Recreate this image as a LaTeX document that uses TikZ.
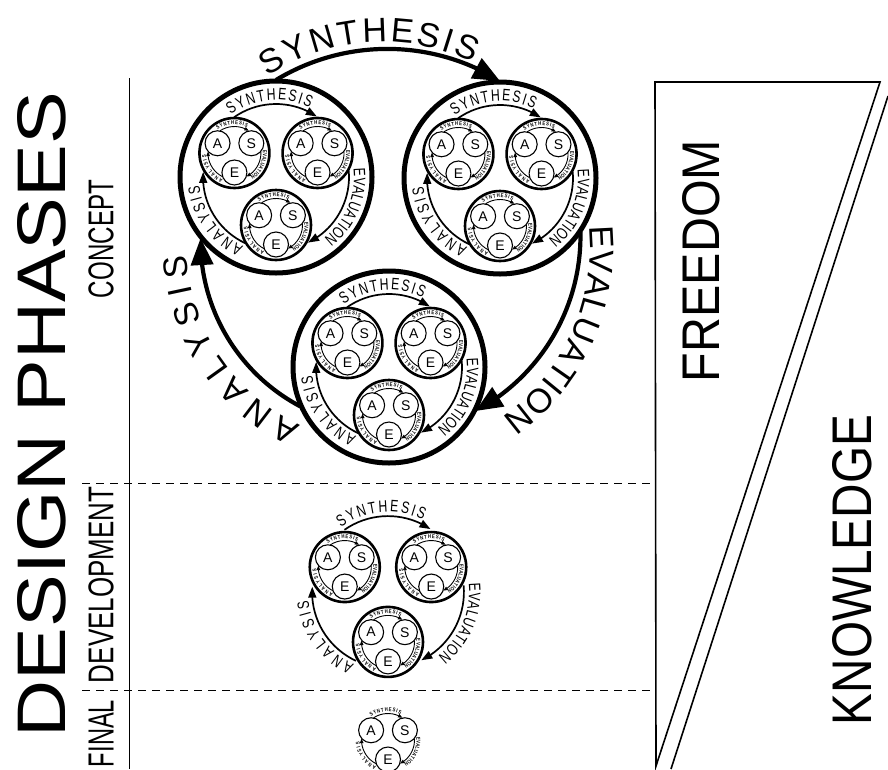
\documentclass[tikz,border=0pt]{standalone}
\usepackage{graphicx}
\usepackage{fontspec}
\setmainfont{Liberation Sans}
\newfontfamily\condfont[FakeStretch=0.78]{Liberation Sans}
\newfontfamily\narrowfont[FakeStretch=0.74]{Liberation Sans}
\usetikzlibrary{arrows.meta,bending,decorations.text,calc}
\newcommand\fontTiny{\condfont\bfseries\fontsize{5.5pt}{5.5pt}\selectfont}
\newcommand\fontMid{\narrowfont\fontsize{16.5pt}{16.5pt}\selectfont}
\newcommand\fontBig{\fontsize{34pt}{34pt}\selectfont}
\newcommand\fontLetter{\fontsize{14pt}{14pt}\selectfont}
% text along an arc around the local origin: radius, start, end, font, text
\newcommand\arclabel[5]{\path[decorate,decoration={text along path,text={|#4|#5},text align={fit to path}}] (#2:#1) arc[start angle=#2,end angle=#3,radius=#1];}
% innermost cell: A, S, E
\newcommand\cellB[2]{%
 \begin{scope}[shift={(#1)}]
  \node[letterc] (#2A) at (210:19.5) {A};
  \node[letterc] (#2S) at (330:19.5) {S};
  \node[letterc] (#2E) at (90:19.5) {E};
  \draw[arcT] (237:26.5) arc[start angle=237,end angle=303,radius=26.5];
  \draw[arcT] (357:26.5) arc[start angle=357,end angle=423,radius=26.5];
  \draw[arcT] (117:26.5) arc[start angle=117,end angle=183,radius=26.5];
  \arclabel{28.6}{234}{296}{\fontTiny}{SYNTHESIS}
  \arclabel{28.6}{354}{416}{\fontTiny}{EVALUATION}
  \arclabel{28.6}{114}{176}{\fontTiny}{ANALYSIS}
 \end{scope}}
% middle cell: three inner cells
\newcommand\cellA[3]{%
 \begin{scope}[shift={(#1)}]
  \pgfmathsetmacro\cAd{48*#3}%
  \pgfmathsetmacro\cAr{73*#3}%
  \pgfmathsetmacro\cAt{77*#3}%
  \pgfmathsetmacro\cAe{78*#3}%
  \node[midc] (#2a) at (210:\cAd) {};
  \node[midc] (#2b) at (330:\cAd) {};
  \node[midc] (#2c) at (90:\cAd) {};
  \cellB{210:\cAd}{#2a}%
  \cellB{330:\cAd}{#2b}%
  \cellB{90:\cAd}{#2c}%
  \draw[arcM] (235:\cAr) arc[start angle=235,end angle=304,radius=\cAr];
  \draw[arcM] (355:\cAr) arc[start angle=355,end angle=424,radius=\cAr];
  \draw[arcM] (115:\cAr) arc[start angle=115,end angle=184,radius=\cAr];
  \arclabel{\cAt}{234}{296}{\fontMid}{SYNTHESIS}%
  \arclabel{\cAe}{354}{412}{\fontMid}{EVALUATION}%
  \arclabel{\cAt}{115}{174}{\fontMid}{ANALYSIS}%
 \end{scope}}
\begin{document}
\begin{tikzpicture}[x=1pt,y=-1pt,
  outerc/.style={circle,draw,line width=5pt,minimum size=192pt,inner sep=0pt},
  midc/.style={circle,draw,line width=2.6pt,minimum size=70pt,inner sep=0pt},
  letterc/.style={circle,draw,line width=1.1pt,minimum size=25pt,inner sep=0pt,font=\fontLetter},
  arcT/.style={line width=0.9pt,-{Triangle[length=4.5pt,width=3.5pt]}},
  arcM/.style={line width=1.7pt,-{Triangle[length=11pt,width=8pt]}},
  arcL/.style={line width=4.2pt,-{Triangle[length=27pt,width=22pt]}},
  sepline/.style={line width=1pt},
  dashsep/.style={line width=0.9pt,dash pattern=on 8pt off 6pt},
  triline/.style={line width=1.6pt,line join=miter},
  biglabel/.style={rotate=90,inner sep=0pt,outer sep=0pt}]
\useasboundingbox (0,0) rectangle (888,769);
% phase labels
\node[biglabel] (title) at (42,414.5) {\resizebox{645pt}{48pt}{DESIGN PHASES}};
\node[biglabel] (concept) at (101,239) {\resizebox{118pt}{25pt}{\condfont CONCEPT}};
\node[biglabel] (develop) at (101,585) {\resizebox{196pt}{25pt}{\condfont DEVELOPMENT}};
\node[biglabel] (final) at (101,733.5) {\resizebox{67pt}{25pt}{\condfont FINAL}};
% separators
\coordinate (vt) at (129,78);
\coordinate (vb) at (129,769);
\draw[sepline] (vt) -- (vb);
\coordinate (d1l) at (82,483);
\coordinate (d1r) at (655,483);
\coordinate (d2l) at (82,690);
\coordinate (d2r) at (655,690);
\draw[dashsep] (d1l) -- (d1r);
\draw[dashsep] (d2l) -- (d2r);
% freedom / knowledge
\coordinate (t1) at (655,82);
\coordinate (t2) at (880,82);
\coordinate (t3) at (656,766);
\draw[triline] (t1) -- (t2) -- (t3) -- cycle;
\coordinate (k1) at (888,96);
\coordinate (k2) at (671,769);
\draw[triline] (k1) -- (k2);
\node[biglabel] (freedom) at (701.5,261) {\resizebox{242pt}{37pt}{FREEDOM}};
\node[biglabel] (knowledge) at (852.5,570) {\resizebox{310pt}{39pt}{KNOWLEDGE}};
% concept phase
\node[outerc] (cA) at (276,177) {};
\node[outerc] (cB) at (500,178) {};
\node[outerc] (cC) at (389,367) {};
\cellA{276,177}{A}{1}
\cellA{500,178}{B}{1}
\cellA{389,367}{C}{1}
\coordinate (s0) at ($(cA.center)+(270:97)$);
\coordinate (s1) at ($(cB.center)+(270:97)$);
\coordinate (e0) at ($(cB.center)+(34:97)$);
\coordinate (e1) at ($(cC.center)+(27:97)$);
\coordinate (a0) at ($(cC.center)+(156:97)$);
\coordinate (a1) at ($(cA.center)+(141:97)$);
\draw[arcL] (s0) .. controls +(-31.2:80.6) and +(211.8:80.6) .. (s1);
\draw[arcL] (e0) .. controls +(88.9:74.5) and +(-28.1:74.5) .. (e1);
\draw[arcL] (a0) .. controls +(207.9:70.5) and +(90.9:70.5) .. (a1);
\begin{scope}[shift={(383,248)}]
 \arclabel{206}{236}{296}{\fontBig}{SYNTHESIS}
 \arclabel{207}{354}{415}{\fontBig}{EVALUATION}
 \arclabel{196}{115}{178}{\fontBig}{ANALYSIS}
\end{scope}
% development phase
\cellA{388,592}{D}{1.04}
% final phase
\cellB{388,740}{F}
\end{tikzpicture}
\end{document}
